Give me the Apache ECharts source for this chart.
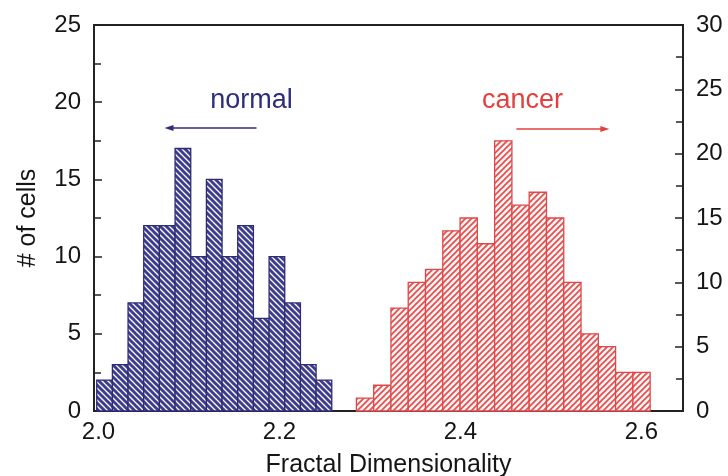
<!DOCTYPE html>
<html>
<head>
<meta charset="utf-8">
<script src="https://cdn.jsdelivr.net/npm/echarts@6/dist/echarts.min.js"></script>
<style>
    html, body { margin: 0; padding: 0; background: #fff; }
    #chart { width: 728px; height: 476px; }
</style>
</head>
<body>
<div id="chart"></div>
<script>
// histogram data
const normalCounts = [2, 3, 7, 12, 12, 17, 10, 15, 10, 12, 6, 10, 7, 3, 2]   // left axis
const normalBinStart = 1.998
const normalBinWidth = 0.01732

const cancerCounts = [1, 2, 8, 10, 11, 14, 15, 13, 21, 16, 17, 15, 10, 6, 5, 3, 3]   // right axis
const cancerBinStart = 2.285
const cancerBinWidth = 0.0191

const xTickLabels = [2.0, 2.2, 2.4, 2.6]
const xTicks = [2.0, 2.1, 2.2, 2.3, 2.4, 2.5, 2.6]

const FONT = '"Liberation Sans", Arial, sans-serif'

// build bins [left edge, right edge, count]
function toBins(counts, start, width) {
    return counts.map((c, i) => [start + i * width, start + (i + 1) * width, c])
}

// hatch pattern, dir 1 = "\" , dir -1 = "/"
function hatch(bg, fg, lw, dir, s) {
    const cv = document.createElement('canvas')
    cv.width = s
    cv.height = s
    const ctx = cv.getContext('2d')
    ctx.fillStyle = bg
    ctx.fillRect(0, 0, s, s)
    ctx.strokeStyle = fg
    ctx.lineWidth = lw
    for (let k = -2; k <= 2; k++) {
        ctx.beginPath()
        if (dir > 0) {
            ctx.moveTo(k * s - s, -s)
            ctx.lineTo(k * s + 2 * s, 2 * s)
        } else {
            ctx.moveTo(k * s - s, 2 * s)
            ctx.lineTo(k * s + 2 * s, -s)
        }
        ctx.stroke()
    }
    return { image: cv, repeat: 'repeat' }
}

function renderBin(params, api) {
    const p0 = api.coord([api.value(0), api.value(2)])
    const p1 = api.coord([api.value(1), 0])
    return {
        type: 'rect',
        shape: { x: p0[0], y: p0[1], width: p1[0] - p0[0], height: p1[1] - p0[1] },
        style: api.style()
    }
}

const myChart = echarts.init(document.getElementById('chart'))

const axisText = { color: '#151515', fontSize: 24, fontFamily: FONT }
const axisLine = { show: true, lineStyle: { color: '#222', width: 2 } }

const option = {
    animation: false,
    grid: {
        left: 94, right: 45, top: 25, bottom: 65,
        containLabel: false, outerBoundsMode: 'none',
        show: true, borderColor: '#222', borderWidth: 2
    },
    xAxis: {
        type: 'value',
        min: 1.995,
        max: 2.646,
        name: 'Fractal Dimensionality',
        nameLocation: 'middle',
        nameGap: 42,
        nameTextStyle: { color: '#151515', fontSize: 25, fontFamily: FONT },
        axisLine: axisLine,
        axisTick: { inside: true, length: 5, customValues: xTicks, lineStyle: { color: '#222', width: 1.5 } },
        axisLabel: Object.assign({ margin: 9, customValues: xTickLabels, formatter: v => v.toFixed(1) }, axisText),
        splitLine: { show: false }
    },
    yAxis: [
        {
            type: 'value',
            min: 0,
            max: 25,
            interval: 5,
            name: '# of cells',
            nameLocation: 'middle',
            nameGap: 53,
            nameTextStyle: { color: '#151515', fontSize: 25, fontFamily: FONT },
            axisLine: axisLine,
            axisTick: { inside: true, length: 8, lineStyle: { color: '#222', width: 1.5 } },
            minorTick: { show: true, splitNumber: 2, length: 7, lineStyle: { color: '#222', width: 1.5 } },
            axisLabel: Object.assign({ margin: 13 }, axisText),
            splitLine: { show: false }
        },
        {
            type: 'value',
            min: 0,
            max: 30,
            interval: 5,
            position: 'right',
            axisLine: axisLine,
            axisTick: { inside: true, length: 8, lineStyle: { color: '#222', width: 1.5 } },
            minorTick: { show: true, splitNumber: 2, length: 7, lineStyle: { color: '#222', width: 1.5 } },
            axisLabel: Object.assign({ margin: 13 }, axisText),
            splitLine: { show: false }
        }
    ],
    series: [
        {
            name: 'normal',
            type: 'custom',
            renderItem: renderBin,
            xAxisIndex: 0,
            yAxisIndex: 0,
            encode: { x: [0, 1], y: 2 },
            itemStyle: { color: hatch('#ffffff', '#3e3c8e', 3, 1, 6), borderColor: '#2d2b75', borderWidth: 1.3 },
            data: toBins(normalCounts, normalBinStart, normalBinWidth)
        },
        {
            name: 'cancer',
            type: 'custom',
            renderItem: renderBin,
            xAxisIndex: 0,
            yAxisIndex: 1,
            encode: { x: [0, 1], y: 2 },
            itemStyle: { color: hatch('#fff4f4', '#e34e4e', 1.7, -1, 6), borderColor: '#e04848', borderWidth: 1.3 },
            data: toBins(cancerCounts, cancerBinStart, cancerBinWidth)
        }
    ]
}

option && myChart.setOption(option, true)

// labels + arrows placed in data coords (left axis)
function px(x, y) {
    return myChart.convertToPixel({ xAxisIndex: 0, yAxisIndex: 0 }, [x, y])
}

function arrow(from, to, color) {
    const a = px(from[0], from[1])
    const b = px(to[0], to[1])
    const d = b[0] > a[0] ? 1 : -1
    return [
        { type: 'line', shape: { x1: a[0], y1: a[1], x2: b[0] - d * 6, y2: b[1] }, style: { stroke: color, lineWidth: 1.6 } },
        { type: 'polygon', shape: { points: [[b[0], b[1]], [b[0] - d * 9, b[1] - 3], [b[0] - d * 9, b[1] + 3]] }, style: { fill: color } }
    ]
}

function label(text, x, y, color) {
    const p = px(x, y)
    return {
        type: 'text',
        x: p[0],
        y: p[1],
        style: { text: text, fill: color, fontSize: 27, fontFamily: FONT, align: 'center', verticalAlign: 'middle' }
    }
}

myChart.setOption({
    graphic: [
        label('normal', 2.169, 20.1, '#2e2c7e'),
        label('cancer', 2.4685, 20.1, '#e0403e'),
        ...arrow([2.1746, 18.33], [2.0729, 18.33], '#2e2c7e'),
        ...arrow([2.4619, 18.26], [2.5646, 18.26], '#e0403e')
    ]
})
</script>
</body>
</html>
